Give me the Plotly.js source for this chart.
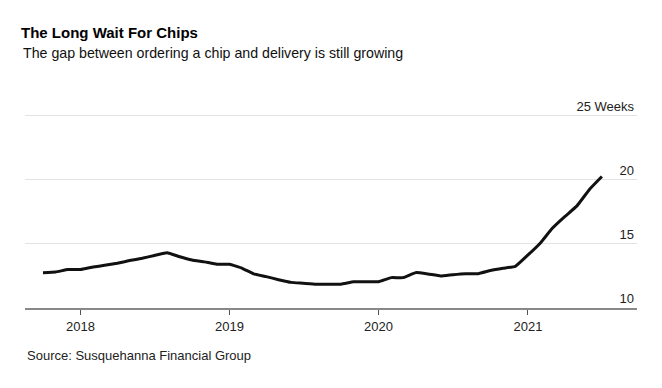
<!DOCTYPE html>
<html>
<head>
<meta charset="utf-8">
<script src="https://cdn.plot.ly/plotly-3.0.1.min.js"></script>
<style>html,body{margin:0;padding:0;background:#fff;}#chart{width:662px;height:388px;}</style>
</head>
<body>
<div id="chart"></div>
<script>
const months = ["2017-10-01","2017-11-01","2017-12-01",
"2018-01-01","2018-02-01","2018-03-01","2018-04-01","2018-05-01","2018-06-01","2018-07-01","2018-08-01","2018-09-01","2018-10-01","2018-11-01","2018-12-01",
"2019-01-01","2019-02-01","2019-03-01","2019-04-01","2019-05-01","2019-06-01","2019-07-01","2019-08-01","2019-09-01","2019-10-01","2019-11-01","2019-12-01",
"2020-01-01","2020-02-01","2020-03-01","2020-04-01","2020-05-01","2020-06-01","2020-07-01","2020-08-01","2020-09-01","2020-10-01","2020-11-01","2020-12-01",
"2021-01-01","2021-02-01","2021-03-01","2021-04-01","2021-05-01","2021-06-01","2021-07-01"];
const leadWeeks = [12.76,12.81,13.0,
13.0,13.2,13.33,13.49,13.7,13.88,14.1,14.32,14.0,13.75,13.6,13.41,
13.41,13.1,12.66,12.45,12.21,12.0,11.93,11.85,11.85,11.86,12.05,12.05,
12.05,12.37,12.37,12.76,12.66,12.5,12.6,12.68,12.68,12.92,13.1,13.25,
14.14,15.1,16.2,17.13,17.97,19.27,20.26];
const yTickVals = [10,15,20,25];
const yTickText = ["10","15","20","25 Weeks"];
const xTickVals = ["2018-01-01","2019-01-01","2020-01-01","2021-01-01"];
const xTickText = ["2018","2019","2020","2021"];

const font = "Liberation Sans, Arial, sans-serif";

Plotly.newPlot("chart", [{
  x: months, y: leadWeeks, type: "scatter", mode: "lines",
  line: {color: "#111", width: 3, shape: "spline", smoothing: 0.3},
  hoverinfo: "skip"
}], {
  width: 662, height: 388,
  margin: {l: 25, r: 25, t: 94, b: 80},
  paper_bgcolor: "#fff", plot_bgcolor: "#fff",
  showlegend: false,
  font: {family: font, color: "#222", size: 13},
  title: {text: "<b>The Long Wait For Chips</b>", x: 0, xref: "paper", xanchor: "left", y: 0.915, yref: "container", yanchor: "middle",
    font: {family: font, size: 15, color: "#000"}, pad: {l: -4}},
  xaxis: {
    type: "date", range: ["2017-08-18", "2021-09-25"],
    tickvals: xTickVals, ticktext: xTickText,
    showgrid: false, zeroline: false,
    showline: true, linecolor: "#888", linewidth: 2,
    ticks: "outside", ticklen: 5, tickcolor: "#555", tickwidth: 1,
    tickfont: {size: 13, color: "#222", family: font}
  },
  yaxis: {
    range: [10, 26.7], side: "right",
    tickvals: yTickVals, ticktext: yTickText,
    ticklabelposition: "inside top",
    showgrid: true, gridcolor: "#e3e3e3", gridwidth: 1,
    zeroline: false, showline: false, ticks: "",
    tickfont: {size: 13, color: "#222", family: font}
  },
  annotations: [
    {text: "The gap between ordering a chip and delivery is still growing", xref: "paper", yref: "paper",
     x: 0, y: 1, xanchor: "left", yanchor: "middle", xshift: -4, yshift: 41, showarrow: false,
     font: {family: font, size: 14.2, color: "#111"}},
    {text: "Source: Susquehanna Financial Group", xref: "paper", yref: "paper",
     x: 0, y: 0, xanchor: "left", yanchor: "middle", yshift: -47, showarrow: false,
     font: {family: font, size: 13, color: "#222"}}
  ]
}, {displayModeBar: false, staticPlot: true});
</script>
</body>
</html>
